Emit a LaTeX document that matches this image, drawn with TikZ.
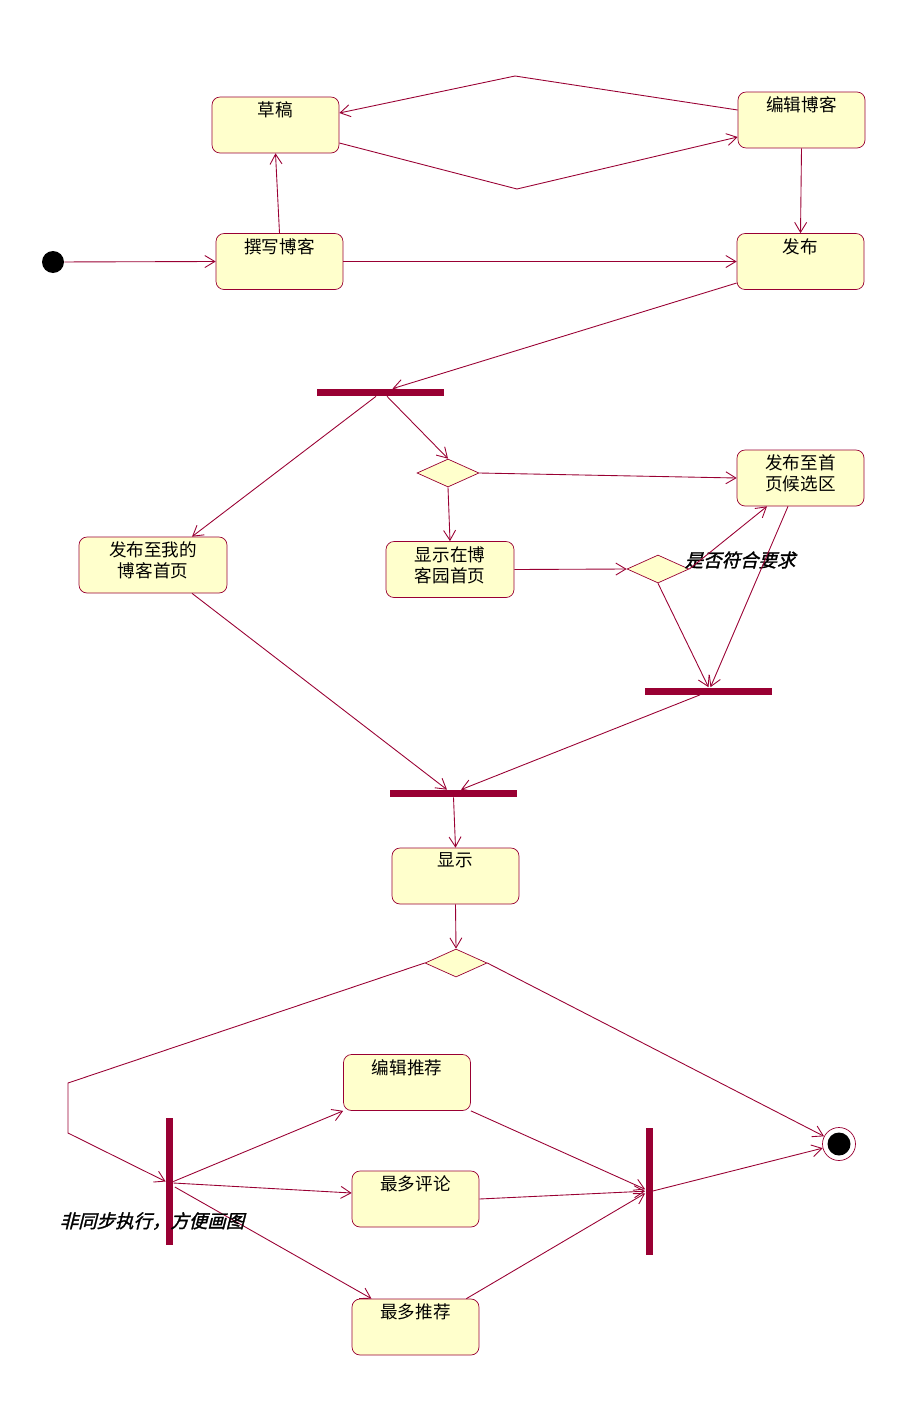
\documentclass[tikz,border=0pt]{standalone}
\usepackage{fontspec}
\setmainfont{Noto Sans CJK SC}
\newfontfamily\cjknote{Noto Sans CJK SC}[FakeBold=1.5,FakeSlant=0.25]
\usepackage{xcolor}
\usepackage{tikz}
\usetikzlibrary{
    positioning,
    arrows.meta,
    calc,
    shapes.geometric
}
\definecolor{roseRed}{RGB}{153, 0, 51}
\definecolor{roseYellow}{RGB}{255, 255, 204}
\tikzset{
    state/.style={draw=roseRed, fill=roseYellow, rounded corners=0.16cm,
        minimum width=2.54cm, minimum height=1.12cm, inner sep=0pt},
    title/.style={anchor=north, yshift=-0.1cm, inner sep=0pt, align=center,
        font=\fontsize{10}{12}\selectfont},
    bar/.style={fill=roseRed, minimum width=2.54cm, minimum height=0.14cm, inner sep=0pt},
    vbar/.style={bar, minimum width=0.14cm, minimum height=2.54cm},
    choice/.style={diamond, draw=roseRed, fill=roseYellow, minimum width=1.24cm,
        minimum height=0.56cm, inner sep=0pt},
    start/.style={circle, fill=black, minimum size=0.44cm, inner sep=0pt},
    finish/.style={circle, draw=roseRed, fill=white, minimum size=0.66cm, inner sep=0pt,
        path picture={\fill[black] (path picture bounding box.center) circle (0.23cm);}},
    flow/.style={->, draw=roseRed, line width=0.5pt},
    note/.style={font=\cjknote\fontsize{10.5}{12}\selectfont, inner sep=0pt}
}
\begin{document}
\begin{tikzpicture}[x=0.02cm, y=-0.02cm, >={Straight Barb[length=2mm,width=2.4mm]}]
            \useasboundingbox (0,0) rectangle (909,1423);
            % upper part
            \node[start] (init) at (53,262) {};
            \node[state, label={[title]north:撰写博客}] (write) at (279.5,261.5) {};
            \node[state, label={[title]north:草稿}] (draft) at (275.5,125) {};
            \node[state, label={[title]north:编辑博客}] (edit) at (801.5,120) {};
            \node[state, label={[title]north:发布}] (publish) at (800.5,261.5) {};
            \coordinate (lowbend) at (517,189);
            \coordinate (highbend) at (515,76);
            
            \draw[flow] (init) -- (write.west);
            \draw[flow] (write.north) -- (draft.south);
            \draw[flow] ($(draft.east)+(0,18)$) -- (lowbend) -- ($(edit.west)+(0,17)$);
            \draw[flow] ($(edit.west)+(0,-10)$) -- (highbend) -- ($(draft.east)+(0,-12)$);
            \draw[flow] (edit.south) -- (publish.north);
            \draw[flow] (write.east) -- (publish.west);
            
            % middle part
            \node[bar] (fork) at (380.5,392.5) {};
            \node[choice] (sitechoice) at (448,473) {};
            \node[state, label={[title]north:{发布至首\\页候选区}}] (cand) at (800.5,478) {};
            \node[state, minimum width=2.96cm, label={[title]north:{发布至我的\\博客首页}}] (myhome) at (153,565) {};
            \node[state, minimum width=2.56cm, label={[title]north:{显示在博\\客园首页}}] (site) at (450,569.5) {};
            \node[choice] (checkchoice) at (658,569) {};
            \node[note] (checknote) at (740,560) {是否符合要求};
            \node[bar] (candjoin) at (708.5,691) {};
            \node[bar] (join) at (453.5,793.5) {};
            
            \draw[flow] ($(publish.west)+(0,21.5)$) -- ($(fork.north)+(12,0)$);
            \draw[flow] ($(fork.south)+(-4.5,0)$) -- ($(myhome.north)+(39,0)$);
            \draw[flow] ($(fork.south)+(6.5,0)$) -- (sitechoice.north);
            \draw[flow] (sitechoice.east) -- (cand.west);
            \draw[flow] (sitechoice.south) -- (site.north);
            \draw[flow] (site.east) -- (checkchoice.west);
            \draw[flow] (checkchoice.east) -- ($(cand.south)+(-33.5,0)$);
            \draw[flow] (checkchoice.south) -- (candjoin.north);
            \draw[flow] ($(cand.south)+(-12.5,0)$) -- ($(candjoin.north)+(2,0)$);
            \draw[flow] ($(candjoin.south)+(-8.5,0)$) -- ($(join.north)+(7.5,0)$);
            \draw[flow] ($(myhome.south)+(39,0)$) -- ($(join.north)+(-6.5,0)$);
            
            % lower part
            \node[state, label={[title]north:显示}] (show) at (455.5,876) {};
            \node[choice] (showchoice) at (456,963) {};
            \node[state, label={[title]north:编辑推荐}] (editrec) at (407,1082.5) {};
            \node[state, label={[title]north:最多评论}] (mostcom) at (415.5,1199) {};
            \node[state, label={[title]north:最多推荐}] (mostrec) at (415.5,1327) {};
            \node[vbar] (split) at (169.5,1181.5) {};
            \node[vbar] (merge) at (649,1191) {};
            \node[finish] (final) at (839,1144) {};
            \coordinate (leftup) at (68,1083);
            \coordinate (leftdown) at (68,1133);
            
            \draw[flow] (join.south) -- (show.north);
            \draw[flow] (show.south) -- (showchoice.north);
            \draw[flow] (showchoice.west) -- (leftup) -- (leftdown) -- (split.west);
            \draw[flow] (showchoice.east) -- (final);
            \draw[flow] (split.east) -- (editrec.south west);
            \draw[flow] ($(split.east)+(0,1.5)$) -- ($(mostcom.west)+(0,-6)$);
            \draw[flow] ($(split.east)+(1.5,5.5)$) -- ($(mostrec.north)+(-44,0)$);
            \draw[flow] (editrec.south east) -- (merge);
            \draw[flow] (mostcom.east) -- (merge);
            \draw[flow] ($(mostrec.north east)+(-13,0)$) -- (merge);
            \draw[flow] (merge.east) -- (final);
            \node[note] (syncnote) at (152,1221) {非同步执行，方便画图};
        \end{tikzpicture}
\end{document}
